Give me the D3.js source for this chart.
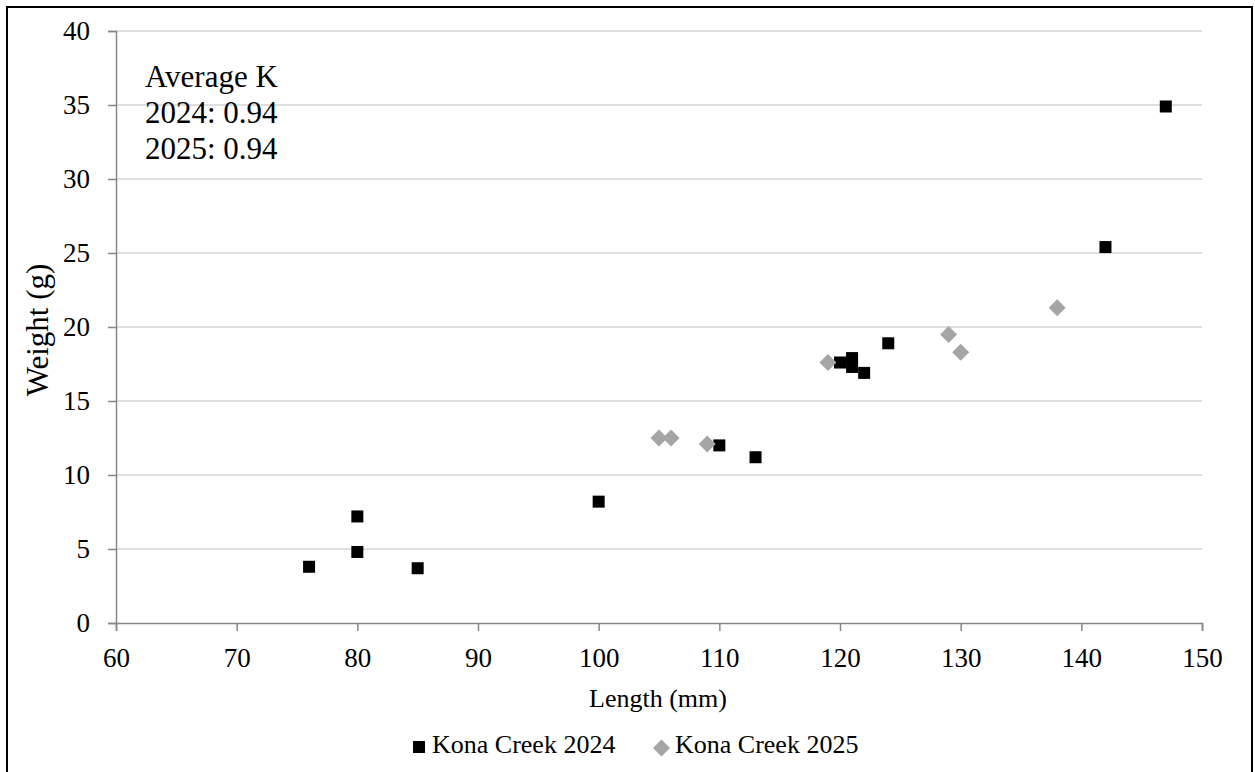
<!DOCTYPE html>
<html><head><meta charset="utf-8">
<script src="https://cdn.jsdelivr.net/npm/d3@7"></script>
<style>body{margin:0;background:#fff}svg{display:block}</style>
</head><body>
<script>
const len2024 = [76, 80, 80, 85, 100, 110, 113, 120, 121, 121, 122, 124, 142, 147];
const wt2024  = [3.8, 7.2, 4.8, 3.7, 8.2, 12.0, 11.2, 17.6, 17.9, 17.3, 16.9, 18.9, 25.4, 34.9];
const len2025 = [105, 106, 109, 119, 129, 130, 138];
const wt2025  = [12.5, 12.5, 12.1, 17.6, 19.5, 18.3, 21.3];
const xTicks = [60, 70, 80, 90, 100, 110, 120, 130, 140, 150];
const yTicks = [0, 5, 10, 15, 20, 25, 30, 35, 40];
const seriesNames = ["Kona Creek 2024", "Kona Creek 2025"];
const annotation = ["Average K", "2024: 0.94", "2025: 0.94"];

const FONT = "'Liberation Serif', 'Times New Roman', Tinos, 'DejaVu Serif', serif";
const W = 1255, H = 772;
const svg = d3.select("body").append("svg").attr("width", W).attr("height", H)
  .style("font-family", FONT);
svg.append("rect").attr("x", 7).attr("y", 7).attr("width", 1245).attr("height", 770)
  .attr("fill", "#fff").attr("stroke", "#000").attr("stroke-width", 2);

const x = d3.scaleLinear().domain([60, 150]).range([116, 1202]);
const y = d3.scaleLinear().domain([0, 40]).range([623, 31]);

svg.append("g").selectAll("line").data(yTicks.filter(d => d > 0)).join("line")
  .attr("x1", x(60)).attr("x2", x(150)).attr("y1", d => y(d)).attr("y2", d => y(d))
  .attr("stroke", "#bfbfbf").attr("stroke-width", 1);

const axisColor = "#868686";
const gx = svg.append("g").attr("transform", `translate(0,${y(0)})`)
  .call(d3.axisBottom(x).tickValues(xTicks).tickSize(8).tickPadding(17).tickFormat(d3.format("d")));
const gy = svg.append("g").attr("transform", `translate(${x(60)},0)`)
  .call(d3.axisLeft(y).tickValues(yTicks).tickSize(8).tickPadding(18).tickFormat(d3.format("d")));
[gx, gy].forEach(g => {
  g.attr("font-family", null).attr("font-size", null);
  g.select(".domain").attr("stroke", axisColor).attr("stroke-width", 1.5);
  g.selectAll(".tick line").attr("stroke", axisColor).attr("stroke-width", 1.5);
  g.selectAll(".tick text").style("font-size", "27px").style("font-family", FONT).attr("fill", "#000");
});

const pts2024 = len2024.map((l, i) => ({l, w: wt2024[i]}));
const pts2025 = len2025.map((l, i) => ({l, w: wt2025[i]}));
const sq = 12, dm = 8.5;
svg.append("g").selectAll("rect").data(pts2024).join("rect")
  .attr("x", d => x(d.l) - sq / 2).attr("y", d => y(d.w) - sq / 2)
  .attr("width", sq).attr("height", sq).attr("fill", "#000");
svg.append("g").selectAll("path").data(pts2025).join("path")
  .attr("d", d => `M${x(d.l)},${y(d.w) - dm}L${x(d.l) + dm},${y(d.w)}L${x(d.l)},${y(d.w) + dm}L${x(d.l) - dm},${y(d.w)}Z`)
  .attr("fill", "#a5a5a5");

svg.append("text").attr("x", 658).attr("y", 707).attr("text-anchor", "middle")
  .style("font-size", "26px").style("font-family", FONT).text("Length (mm)");
svg.append("text").attr("transform", "translate(48,330) rotate(-90)")
  .attr("text-anchor", "middle").style("font-size", "31px").style("font-family", FONT).text("Weight (g)");

svg.append("g").selectAll("text").data(annotation).join("text")
  .attr("x", 145).attr("y", (d, i) => 87 + i * 36).style("font-size", "31px").style("font-family", FONT).text(d => d);

const lg = svg.append("g");
lg.append("rect").attr("x", 413).attr("y", 741).attr("width", 12).attr("height", 12).attr("fill", "#000");
lg.append("text").attr("x", 432).attr("y", 753).style("font-size", "26px").style("font-family", FONT).text(seriesNames[0]);
lg.append("path").attr("d", "M661.5,739.5L670,748L661.5,756.5L653,748Z").attr("fill", "#a5a5a5");
lg.append("text").attr("x", 675).attr("y", 753).style("font-size", "26px").style("font-family", FONT).text(seriesNames[1]);
</script>
</body></html>
